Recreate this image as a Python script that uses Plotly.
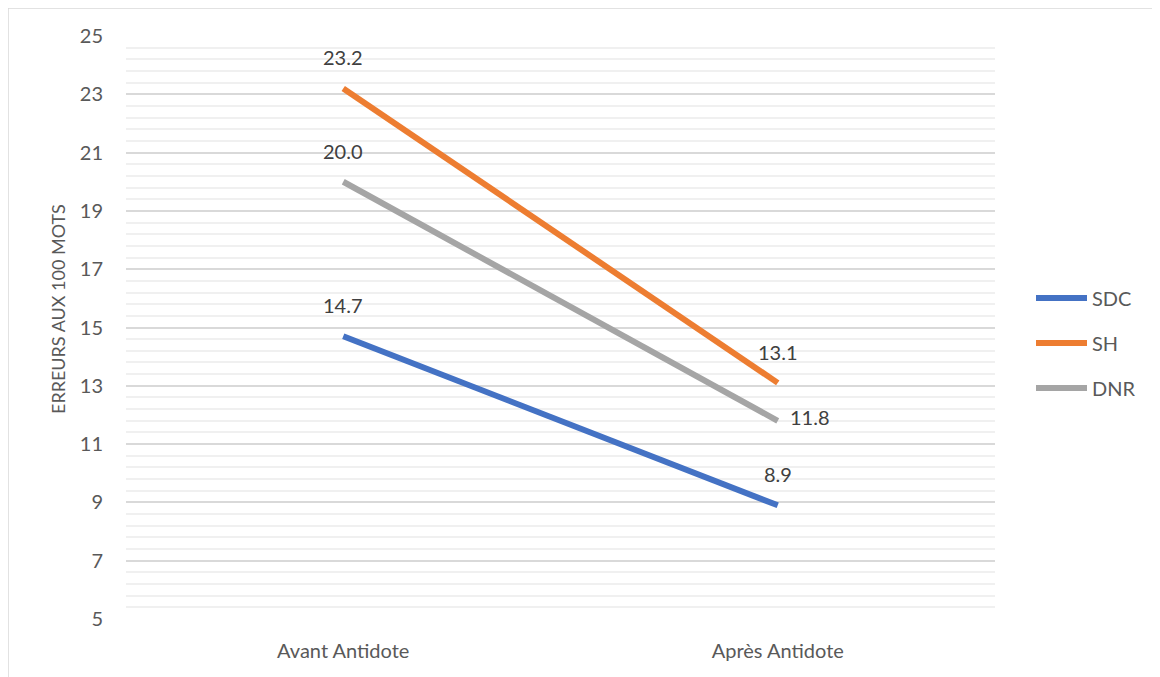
import plotly.graph_objects as go

categories = ["Avant Antidote", "Après Antidote"]
sdc = [14.7, 8.9]
sh = [23.2, 13.1]
dnr = [20.0, 11.8]
series_names = ["SDC", "SH", "DNR"]
series_values = [sdc, sh, dnr]
colors = ["#4472C4", "#ED7D31", "#A5A5A5"]
y_title = "ERREURS AUX 100 MOTS"
# label placement per series per point: (xshift, yshift)
label_shift = [[(0, 31), (0, 31)], [(0, 31), (0, 31)], [(0, 31), (32, 4)]]

FONT = "Lato, Open Sans, sans-serif"

# page body has an 8px margin; compensate so the plot area lands where intended
PL, PT, PW, PH = 118, 28, 869, 583
W, H = 1152, 669

fig = go.Figure()
annotations = []
shapes = []
for i, (name, vals, col) in enumerate(zip(series_names, series_values, colors)):
    fig.add_trace(go.Scatter(
        x=categories, y=vals, mode="lines", name=name,
        line=dict(color=col, width=6), showlegend=False,
    ))
    for j, (c, v) in enumerate(zip(categories, vals)):
        xs, ys = label_shift[i][j]
        annotations.append(dict(
            x=c, y=v, text=f"{v:.1f}", showarrow=False,
            xshift=xs, yshift=ys, font=dict(family=FONT, size=20, color="#404040"),
        ))
    # custom legend entry (long line sample like the original)
    ly = 1 - (298 + 45 * i - 36) / PH
    shapes.append(dict(type="line", xref="paper", yref="paper",
                       x0=(1036 - 126) / PW, x1=(1087 - 126) / PW, y0=ly, y1=ly,
                       line=dict(color=col, width=6)))
    annotations.append(dict(xref="paper", yref="paper", x=(1090 - 126) / PW, y=ly,
                            xanchor="left", yanchor="middle", text=name, showarrow=False,
                            font=dict(family=FONT, size=20, color="#595959")))

# y-axis title (placed slightly above centre, as in the original)
annotations.append(dict(xref="paper", yref="paper", x=(58 - 126) / PW,
                        y=1 - (309 - 36) / PH, xanchor="center", yanchor="middle",
                        textangle=-90, text=y_title, showarrow=False,
                        font=dict(family=FONT, size=18, color="#595959")))

shapes.append(dict(type="rect", xref="paper", yref="paper",
                   x0=-PL / PW, x1=1.5, y0=-0.2, y1=1 + PT / PH,
                   line=dict(color="#D9D9D9", width=1.5), fillcolor="rgba(0,0,0,0)",
                   layer="below"))

fig.update_layout(
    width=W, height=H,
    margin=dict(l=PL, r=W - PL - PW, t=PT, b=H - PT - PH),
    paper_bgcolor="white", plot_bgcolor="white",
    font=dict(family=FONT, color="#595959", size=20),
    showlegend=False,
    annotations=annotations,
    shapes=shapes,
)
fig.update_xaxes(
    type="category", range=[-0.5, 1.5], showgrid=False, zeroline=False,
    showline=False, ticks="", ticklabelstandoff=18,
    tickfont=dict(family=FONT, size=20, color="#595959"),
)
fig.update_yaxes(
    range=[5, 25], tick0=5, dtick=2, showgrid=True, gridcolor="#D9D9D9", gridwidth=1.5,
    zeroline=False, showline=False, ticks="", ticklabelstandoff=22,
    tickfont=dict(family=FONT, size=20, color="#595959"),
    minor=dict(dtick=0.4, tick0=5, showgrid=True, gridcolor="#F0F0F0", gridwidth=1.5),
)

fig.write_html("out.html")
